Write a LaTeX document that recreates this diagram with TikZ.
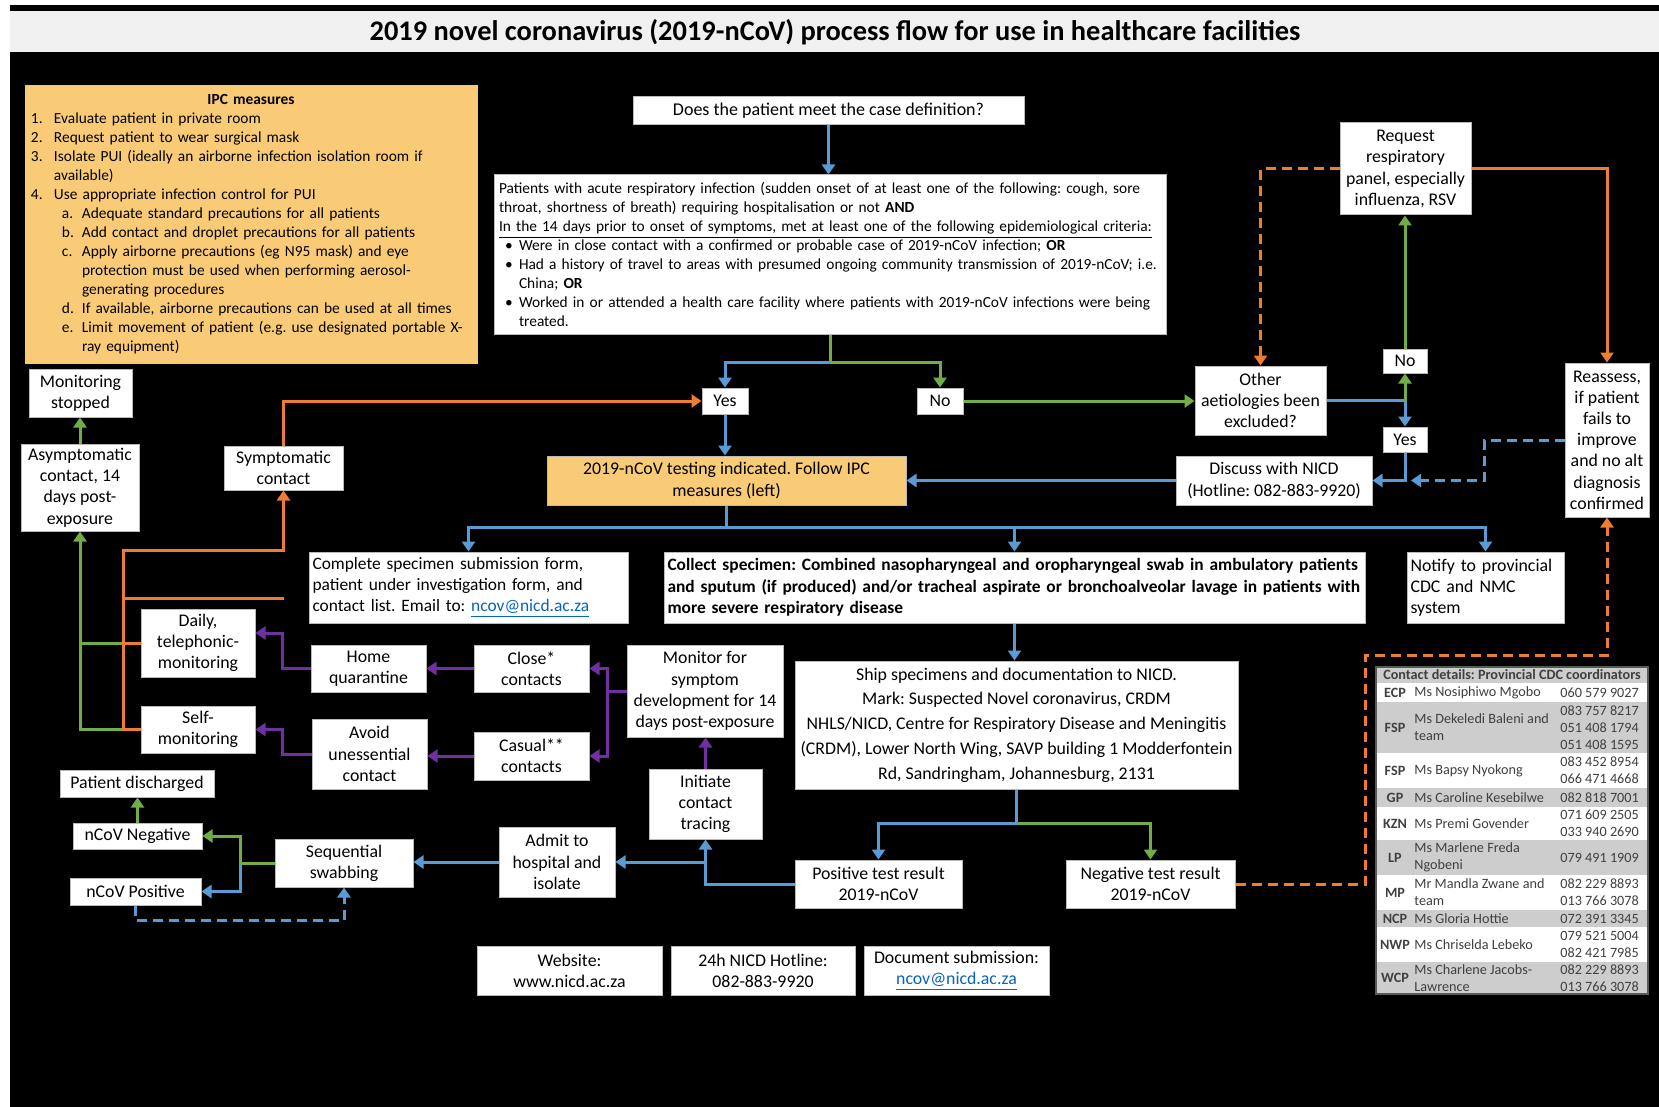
\documentclass[tikz,border=0pt]{standalone}
\usepackage{fontspec}
\setmainfont{Carlito}
\usetikzlibrary{arrows.meta,calc}
\frenchspacing
\definecolor{cblue}{RGB}{91,155,213}
\definecolor{cgreen}{RGB}{112,173,71}
\definecolor{corange}{RGB}{237,125,49}
\definecolor{cpurple}{RGB}{112,48,160}
\definecolor{cyel}{RGB}{249,203,118}
\definecolor{clink}{RGB}{5,99,193}
\definecolor{tgray}{RGB}{64,64,64}
\definecolor{tblgray}{RGB}{205,205,205}
\definecolor{titlegray}{RGB}{240,240,240}
\newcommand\fsz[2]{\fontsize{#1}{#2}\selectfont}
\tikzset{
 bx/.style={draw=gray!55, line width=0.5pt, fill=white, align=center, inner sep=1pt, font=\fsz{8.9}{10.6}},
 ln/.style={line width=1.5pt},
 tip/.style={-{Triangle[length=5pt,width=6.5pt]}},
 bl/.style={ln,draw=cblue}, gr/.style={ln,draw=cgreen}, org/.style={ln,draw=corange}, pur/.style={ln,draw=cpurple},
 dsh/.style={dash pattern=on 5pt off 3pt},
 tabt/.style={inner sep=0pt, text=tgray, font=\fsz{7.1}{8.5}}
}
% [opt]{x1}{y1}{x2}{y2}{name}{text}
\newcommand\bx[7][]{\node[bx,minimum width={(#4-#2)*0.5pt},minimum height={(#5-#3)*0.5pt},#1] (#6) at ({(#2+#4)/2},{(#3+#5)/2}) {#7};}
\newcommand\trow[7]{\fill[#3] (1376,#1) rectangle (1648,#2);
 \node[tabt,font=\fsz{7.1}{8.5}\bfseries] (#7a) at (1395,{(#1+#2)/2}) {#4};
 \node[tabt,anchor=west,align=left] (#7b) at (1414,{(#1+#2)/2}) {#5};
 \node[tabt,anchor=west,align=left] (#7c) at (1560,{(#1+#2)/2}) {#6};}
\begin{document}
\begin{tikzpicture}[x=0.5pt,y=-0.5pt]
\useasboundingbox (0,0) rectangle (1659,1107);
\fill[white] (0,0) rectangle (1659,1107);
\fill[black] (10,52) rectangle (1659,1107);
\fill[black] (10,5) rectangle (1659,11);
\fill[titlegray] (10,11) rectangle (1659,52);
\node[font=\fsz{14.2}{16}\bfseries] (title) at (835,32) {2019 novel coronavirus (2019-nCoV) process flow for use in healthcare facilities};

% IPC
\bx[fill=cyel,draw=gray!40,align=left,text width=220pt,font=\fsz{7.7}{9.5}]{25}{86}{477}{363}{ipc}{%
\makebox[\linewidth][c]{\textbf{IPC measures}}\\
\makebox[11.5pt][l]{1.}Evaluate patient in private room\\
\makebox[11.5pt][l]{2.}Request patient to wear surgical mask\\
\makebox[11.5pt][l]{3.}Isolate PUI (ideally an airborne infection isolation room if\\
\hspace*{11.5pt}available)\\
\makebox[11.5pt][l]{4.}Use appropriate infection control for PUI\\
\hspace*{15.5pt}\makebox[10pt][l]{a.}Adequate standard precautions for all patients\\
\hspace*{15.5pt}\makebox[10pt][l]{b.}Add contact and droplet precautions for all patients\\
\hspace*{15.5pt}\makebox[10pt][l]{c.}Apply airborne precautions (eg N95 mask) and eye\\
\hspace*{25.5pt}protection must be used when performing aerosol-\\
\hspace*{25.5pt}generating procedures\\
\hspace*{15.5pt}\makebox[10pt][l]{d.}If available, airborne precautions can be used at all times\\
\hspace*{15.5pt}\makebox[10pt][l]{e.}Limit movement of patient (e.g. use designated portable X-\\
\hspace*{25.5pt}ray equipment)}

% main flow
\bx[font=\fsz{9}{11}]{633}{97}{1024}{125}{q}{Does the patient meet the case definition?}
\bx[align=left,text width=331pt,font=\fsz{7.7}{9.5}]{494}{175}{1166}{334}{cd}{%
Patients with acute respiratory infection (sudden onset of at least one of the following: cough, sore\\
throat, shortness of breath) requiring hospitalisation or not \textbf{AND}\\
\underline{In the 14 days prior to onset of symptoms, met at least one of the following epidemiological criteria:}\\
\makebox[10pt][c]{\textbullet}Were in close contact with a confirmed or probable case of 2019-nCoV infection; \textbf{OR}\\
\makebox[10pt][c]{\textbullet}Had a history of travel to areas with presumed ongoing community transmission of 2019-nCoV; i.e.\\
\hspace*{10pt}China; \textbf{OR}\\
\makebox[10pt][c]{\textbullet}Worked in or attended a health care facility where patients with 2019-nCoV infections were being\\
\hspace*{10pt}treated.}
\bx{702}{388}{748}{414}{yes1}{Yes}
\bx{917}{388}{963}{414}{no1}{No}
\bx[fill=cyel]{547}{456}{906}{505}{test}{2019-nCoV testing indicated. Follow IPC\\measures (left)}
\bx{1195}{366}{1326}{435}{oth}{Other\\aetiologies been\\excluded?}
\bx{1383}{349}{1427}{373}{no2}{No}
\bx{1383}{427}{1427}{452}{yes2}{Yes}
\bx{1340}{123}{1471}{215}{req}{Request\\respiratory\\panel, especially\\influenza, RSV}
\bx{1565}{363}{1649}{517}{reas}{Reassess,\\if patient\\fails to\\improve\\and no alt\\diagnosis\\confirmed}
\bx{1176}{456}{1372}{505}{disc}{Discuss with NICD\\(Hotline: 082-883-9920)}
\bx[align=left,text width=156pt,font=\fsz{8.7}{10.7}]{309}{552}{628}{623}{comp}{Complete specimen submission form,\\patient under investigation form, and\\contact list. Email to: {\color{clink}\underline{ncov@nicd.ac.za}}}
\bx[align=left,text width=347pt,font=\fsz{8.7}{10.7}\bfseries]{664}{552}{1365}{623}{coll}{Collect specimen: Combined nasopharyngeal and oropharyngeal swab in ambulatory patients\\and sputum (if produced) and/or tracheal aspirate or bronchoalveolar lavage in patients with\\more severe respiratory disease}
\bx[align=left,text width=75pt]{1407}{552}{1564}{623}{noti}{Notify to provincial\\CDC and NMC\\system}
\bx[font=\fsz{8.9}{12.4}]{795}{661}{1238}{789}{ship}{Ship specimens and documentation to NICD.\\Mark: Suspected Novel coronavirus, CRDM\\NHLS/NICD, Centre for Respiratory Disease and Meningitis\\(CRDM), Lower North Wing, SAVP building 1 Modderfontein\\Rd, Sandringham, Johannesburg, 2131}
\bx{795}{860}{962}{908}{pos}{Positive test result\\2019-nCoV}
\bx{1066}{860}{1235}{908}{neg}{Negative test result\\2019-nCoV}

% left side
\bx{29}{369}{132}{417}{mstop}{Monitoring\\stopped}
\bx{21}{444}{139}{531}{asym}{Asymptomatic\\contact, 14\\days post-\\exposure}
\bx{224}{446}{343}{490}{symp}{Symptomatic\\contact}
\bx{141}{609}{255}{677}{daily}{Daily,\\telephonic-\\monitoring}
\bx{141}{706}{255}{753}{self}{Self-\\monitoring}
\bx{311}{645}{426}{692}{home}{Home\\quarantine}
\bx{474}{645}{589}{692}{close}{Close*\\contacts}
\bx{312}{719}{427}{789}{avoid}{Avoid\\unessential\\contact}
\bx{474}{732}{589}{780}{casual}{Casual**\\contacts}
\bx{627}{645}{783}{737}{mon}{Monitor for\\symptom\\development for 14\\days post-exposure}
\bx{649}{769}{762}{839}{init}{Initiate\\contact\\tracing}
\bx{499}{827}{615}{897}{admit}{Admit to\\hospital and\\isolate}
\bx{275}{839}{413}{887}{seq}{Sequential\\swabbing}
\bx{73}{823}{202}{849}{nneg}{nCoV Negative}
\bx{70}{878}{201}{905}{npos}{nCoV Positive}
\bx{60}{770}{214}{797}{disch}{Patient discharged}

% bottom info
\bx{477}{946}{662}{995}{web}{Website:\\www.nicd.ac.za}
\bx{671}{946}{855}{995}{hot}{24h NICD Hotline:\\082-883-9920}
\bx{864}{946}{1049}{995}{doc}{Document submission:\\{\color{clink}\underline{ncov@nicd.ac.za}}}

% table
\fill[white] (1376,667) rectangle (1648,994);
\fill[tblgray] (1376,667) rectangle (1648,683);
\node[tabt,font=\fsz{7.1}{8}\bfseries] (thead) at (1512,675) {Contact details: Provincial CDC coordinators};
\trow{683}{702}{white}{ECP}{Ms Nosiphiwo Mgobo}{060 579 9027}{r1}
\trow{702}{753}{tblgray}{FSP}{Ms Dekeledi Baleni and\\team}{083 757 8217\\051 408 1794\\051 408 1595}{r2}
\trow{753}{788}{white}{FSP}{Ms Bapsy Nyokong}{083 452 8954\\066 471 4668}{r3}
\trow{788}{807}{tblgray}{GP}{Ms Caroline Kesebilwe}{082 818 7001}{r4}
\trow{807}{840}{white}{KZN}{Ms Premi Govender}{071 609 2505\\033 940 2690}{r5}
\trow{840}{875}{tblgray}{LP}{Ms Marlene Freda\\Ngobeni}{079 491 1909}{r6}
\trow{875}{910}{white}{MP}{Mr Mandla Zwane and\\team}{082 229 8893\\013 766 3078}{r7}
\trow{910}{927}{tblgray}{NCP}{Ms Gloria Hottie}{072 391 3345}{r8}
\trow{927}{962}{white}{NWP}{Ms Chriselda Lebeko}{079 521 5004\\082 421 7985}{r9}
\trow{962}{994}{tblgray}{WCP}{Ms Charlene Jacobs-\\Lawrence}{082 229 8893\\013 766 3078}{r10}
\draw[gray!70!black,line width=1pt] (1376,667) rectangle (1648,994);

% connectors
\draw[bl,tip] (q.south) -- (q.south |- cd.north);
\draw[gr] (cd.south) -- ++(0,28) coordinate (s1);
\draw[bl,tip] (s1) -| (yes1.north);
\draw[gr,tip] (s1) -| (no1.north);
\draw[bl,tip] (yes1.south) -- (yes1.south |- test.north);
\draw[gr,tip] (no1.east) -- (no1.east -| oth.west);
\draw[bl] (oth.east) -- (oth.east -| no2.south) coordinate (s2);
\draw[gr,tip] (s2) -- (no2.south);
\draw[bl,tip] (s2) -- (yes2.north);
\draw[gr,tip] (no2.north) -- (no2.north |- req.south);
\draw[org,dsh,tip] (req.west) -| (oth.north);
\draw[org,tip] (req.east) -| (reas.north);
\draw[bl,tip] (yes2.south) |- (disc.east);
\draw[bl,dsh,tip] (reas.west) -- ++(-80,0) |- ($(yes2.south |- disc.east)+(6,0)$);
\draw[bl,tip] (disc.west) -- (disc.west -| test.east);
\draw[bl] (test.south) -- ++(0,22) coordinate (s3);
\draw[bl,tip] (s3) -| (comp.north);
\draw[bl,tip] (s3) -| (noti.north);
\draw[bl,tip] (s3 -| coll.north) -- (coll.north);
\draw[bl,tip] (coll.south) -- (coll.south |- ship.north);
\draw[bl] (ship.south) -- ++(0,34) coordinate (s4);
\draw[bl,tip] (s4) -| (pos.north);
\draw[gr,tip] (s4) -| (neg.north);
\coordinate (b1) at (1365,655);
\draw[org,dsh,tip] (neg.east) -| (b1) -| (reas.south);
\draw[bl,tip] (pos.west) -| (init.south);
\draw[bl,tip] (init.south |- admit.east) -- (admit.east);
\draw[pur,tip] (init.north) -- (init.north |- mon.south);
\draw[pur] (mon.west) -- ++(-19,0) coordinate (s5);
\draw[pur,tip] (s5) |- (close.east);
\draw[pur,tip] (s5) |- (casual.east);
\draw[pur,tip] (close.west) -- (close.west -| home.east);
\draw[pur,tip] (casual.west) -- (casual.west -| avoid.east);
\draw[pur,tip] (home.west) -- ++(-28,0) |- ($(daily.east)+(0,-10)$);
\draw[pur,tip] (avoid.west) -- ++(-29,0) |- (self.east);
\coordinate (o1) at (123,550);
\coordinate (o2) at (123,598);
\draw[gr] (daily.west -| o1) -- (daily.west -| asym.south);
\draw[gr,tip] (self.west -| o1) -| (asym.south);
\draw[org,tip] (self.west) -| (o1) -| (symp.south);
\draw[org] (o2) -- (o2 -| symp.south);
\draw[org] (daily.west) -- (daily.west -| o1);
\draw[org,tip] (symp.north) |- (yes1.west);
\draw[gr,tip] (asym.north) -- (asym.north |- mstop.south);
\draw[bl,tip] (admit.west) -- (admit.west -| seq.east);
\draw[gr] (seq.west) -- ++(-34,0) coordinate (s6);
\draw[gr,tip] (s6) |- (nneg.east);
\draw[bl,tip] (s6) |- (npos.east);
\draw[bl,dsh,tip] (npos.south) -- ++(0,15) -| (seq.south);
\draw[gr,tip] (nneg.north) -- (nneg.north |- disch.south);
\end{tikzpicture}
\end{document}
